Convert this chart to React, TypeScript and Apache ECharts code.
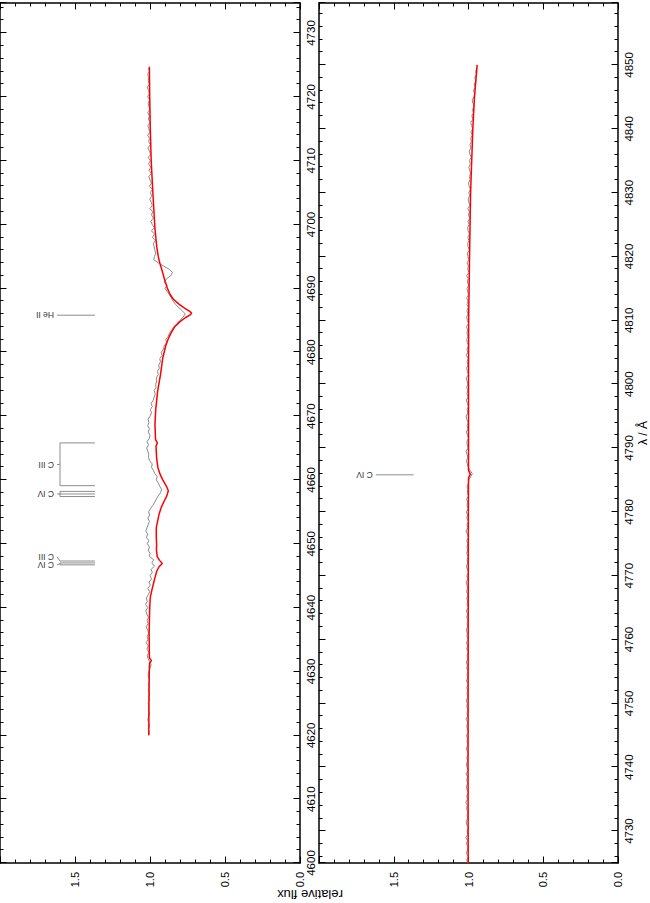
import React, { useEffect, useRef } from "react";
import * as echarts from "echarts";

const FONT = "Liberation Sans, Arial, Helvetica, sans-serif";

// Wavelength ranges (Å) of the two panels
const TOP_RANGE = [4600, 4734.7];
const BOTTOM_RANGE = [4725, 4859.7];
const FLUX_RANGE = [0, 2];

// Observed spectrum: sampled every 0.5 Å
const OBS_STEP = 0.5;
const TOP_OBS_START = 4620;
const TOP_OBS = [
  1.01, 1.006, 1.012, 1.004, 1.01, 1.015, 1.008, 1.003, 1.011, 1.007, 1.013, 1.005, 1.009, 1.002, 1.012, 1.006, 1.01, 1.004, 1.008, 1.013, 1.006, 1.0,
  0.992, 1.002, 1.012, 1.018, 1.008, 1.02, 1.012, 1.025, 1.014, 1.019, 1.008, 1.016, 1.026, 1.012, 1.02, 1.01, 1.022, 1.028, 1.015, 1.03, 1.018, 1.024,
  1.012, 1.002, 1.015, 0.998, 1.006, 0.99, 1.0, 0.985, 0.992, 0.97, 0.988, 0.975, 1.004, 1.0, 1.012, 1.003, 1.018, 1.008, 1.024, 1.015, 1.028, 1.02,
  1.012, 1.004, 1.014, 1.002, 1.01, 0.996, 0.982, 0.968, 0.958, 0.945, 0.93, 0.922, 0.935, 0.944, 0.958, 0.952, 0.968, 0.978, 0.99, 0.985, 1.002, 1.01,
  1.008, 1.015, 1.022, 1.01, 1.02, 1.005, 1.0, 1.012, 1.004, 1.015, 1.008, 1.012, 1.0, 0.99, 0.998, 0.985, 0.992, 0.978, 0.972, 0.965, 0.972, 0.96,
  0.962, 0.955, 0.958, 0.945, 0.95, 0.938, 0.942, 0.93, 0.935, 0.92, 0.925, 0.91, 0.905, 0.89, 0.895, 0.878, 0.87, 0.855, 0.84, 0.82, 0.8, 0.78,
  0.765, 0.785, 0.81, 0.83, 0.845, 0.858, 0.87, 0.885, 0.9, 0.885, 0.905, 0.89, 0.862, 0.85, 0.872, 0.91, 0.945, 0.975, 0.97, 0.962, 0.968, 0.972,
  0.978, 0.965, 0.985, 0.97, 0.99, 0.972, 0.985, 0.995, 0.978, 0.99, 0.982, 1.0, 0.985, 0.992, 1.002, 0.988, 0.998, 0.985, 1.004, 0.99, 1.0, 1.008,
  0.992, 1.006, 0.995, 1.01, 0.998, 1.012, 0.996, 1.004, 1.014, 0.998, 1.01, 1.002, 1.016, 1.0, 1.008, 1.014, 0.998, 1.01, 1.004, 1.015, 1.0, 1.008,
  1.012, 1.002, 1.016, 1.005, 1.01, 1.018, 1.004, 1.012, 1.008, 1.016, 1.003, 1.01,
];
const BOTTOM_OBS_START = 4725;
const BOTTOM_OBS = [
  1.005, 1.012, 1.0, 1.015, 1.008, 1.002, 1.014, 1.006, 1.018, 1.004, 1.01, 1.0, 1.012, 1.016, 1.005, 1.01, 1.002, 1.014, 1.008, 1.018, 1.006, 1.012, 1.0, 1.01, 1.015,
  1.004, 1.012, 1.006, 1.016, 1.002, 1.01, 1.014, 1.005, 1.012, 1.0, 1.008, 1.015, 1.003, 1.01, 1.006, 1.014, 1.0, 1.008, 1.012, 1.004, 1.016, 1.006, 1.01, 1.002, 1.012,
  1.008, 1.015, 1.004, 1.01, 1.006, 1.012, 1.0, 1.014, 1.006, 1.01, 1.003, 1.012, 1.008, 1.015, 1.004, 1.01, 1.0, 1.012, 1.006, 1.014, 1.002, 1.01, 1.008, 1.016, 1.005,
  1.01, 1.003, 1.012, 1.006, 1.015, 1.0, 1.01, 1.005, 1.012, 1.002, 1.014, 1.006, 1.01, 1.016, 1.004, 1.012, 1.0, 1.008, 1.014, 1.005, 1.01, 1.002, 1.012, 1.006, 1.01,
  1.004, 1.012, 1.0, 1.008, 1.016, 1.005, 1.01, 1.0, 1.012, 1.006, 1.014, 1.002, 1.01, 1.006, 1.012, 1.0, 1.008, 1.004, 1.01, 1.0, 0.998, 0.985, 0.975, 0.99, 1.002,
  1.008, 1.014, 1.004, 1.01, 1.016, 1.002, 1.008, 1.012, 1.0, 1.006, 1.014, 1.004, 1.01, 1.002, 1.012, 1.016, 1.005, 1.01, 1.0, 1.008, 1.014, 1.003, 1.01, 1.006, 1.012,
  1.004, 1.01, 1.015, 1.0, 1.008, 1.012, 1.004, 1.01, 1.002, 1.014, 1.006, 1.01, 1.0, 1.008, 1.012, 1.004, 1.01, 1.006, 1.014, 1.0, 1.008, 1.012, 1.004, 1.01, 1.002,
  1.01, 1.004, 1.012, 1.0, 1.006, 1.01, 0.998, 1.008, 1.002, 1.012, 0.996, 1.006, 1.0, 1.01, 0.998, 1.004, 1.008, 0.995, 1.002, 1.006, 0.998, 1.004, 0.994, 1.002, 1.006,
  0.996, 1.002, 0.992, 1.0, 0.994, 1.004, 0.99, 0.998, 1.002, 0.992, 0.998, 0.988, 0.996, 1.0, 0.99, 0.994, 0.986, 0.992, 0.998, 0.988, 0.994, 0.982, 0.99, 0.995, 0.984,
  0.99, 0.98, 0.986, 0.975, 0.984, 0.972, 0.98, 0.985, 0.97, 0.978, 0.966, 0.975, 0.962, 0.97, 0.976, 0.964, 0.958, 0.968, 0.955, 0.962, 0.95, 0.958, 0.946, 0.952, 0.944,
];

// Model spectrum: [wavelength, relative flux]
const TOP_MODEL = [
  [4620, 1.008], [4625, 1.007], [4630, 1.005], [4631.3, 1.003], [4631.7, 0.99], [4632.1, 1.004],
  [4636, 1.006], [4640, 1.002], [4641.6, 0.998], [4643, 0.985], [4644.7, 0.967], [4645.7, 0.955],
  [4646.4, 0.94], [4646.9, 0.918], [4647.4, 0.936], [4648, 0.952], [4649, 0.957], [4650, 0.956],
  [4651, 0.958], [4652.5, 0.958], [4653.6, 0.949], [4654.6, 0.94], [4655.7, 0.925], [4656.7, 0.905],
  [4657.5, 0.888], [4658.3, 0.878], [4659, 0.89], [4660, 0.915], [4660.9, 0.933], [4662, 0.948],
  [4663.5, 0.956], [4665.3, 0.96], [4665.8, 0.951], [4666.3, 0.963], [4668.7, 0.967], [4671, 0.962],
  [4673.9, 0.949], [4676.5, 0.93], [4679.1, 0.915], [4681, 0.895], [4682, 0.88], [4683, 0.86],
  [4684, 0.835], [4684.8, 0.8], [4685.4, 0.765], [4685.8, 0.735], [4686.1, 0.722], [4686.4, 0.735],
  [4686.9, 0.77], [4687.5, 0.805], [4688.3, 0.844], [4689, 0.865], [4690, 0.884], [4691, 0.898],
  [4692, 0.91], [4693, 0.922], [4694, 0.935], [4695, 0.945], [4696.5, 0.955], [4699.4, 0.967],
  [4704.6, 0.98], [4710, 0.992], [4715, 0.998], [4720, 1.002], [4724.7, 1.004],
];
const BOTTOM_MODEL = [
  [4725, 1.002], [4740, 1.003], [4760, 1.002], [4780, 1.001], [4785.3, 1.0], [4785.9, 0.988],
  [4786.5, 1.0], [4800, 1.0], [4810, 0.999], [4820, 0.993], [4830, 0.986], [4840, 0.971],
  [4845, 0.96], [4850, 0.942],
];

// Line identifications
const TOP_IDS = [
  { label: "He II", lines: [4685.8], labelAt: 4685.8 },
  { label: "C III", lines: [4659.1, 4665.8], labelAt: 4662.4 },
  { label: "C IV", lines: [4657.4, 4657.8, 4658.2], labelAt: 4657.8 },
  { label: "C III", lines: [4647.3], labelAt: 4647.95 },
  { label: "C IV", lines: [4646.7, 4647.0], labelAt: 4646.7 },
];
const BOTTOM_IDS = [{ label: "C IV", lines: [4785.8], labelAt: 4785.8 }];
const ID_LOW_FLUX = 1.367;
const ID_BAR_FLUX = 1.6;
const ID_TICK_FLUX = 1.62;
const ID_LABEL_FLUX = 1.64;

function obsPairs(start: number, values: number[]) {
  return values.map((v, i) => [start + i * OBS_STEP, v]);
}

function wlAxis(gridIndex: number, range: number[], position: string, labels: boolean, name?: string) {
  return {
    type: "value",
    gridIndex,
    position,
    min: range[0],
    max: range[1],
    minInterval: 10,
    maxInterval: 10,
    splitNumber: 13,
    name: name || "",
    nameLocation: "middle",
    nameGap: 19,
    nameTextStyle: { color: "#000", fontSize: 12, fontFamily: FONT },
    axisLine: { show: true, onZero: false, lineStyle: { color: "#000", width: 1.5 } },
    axisTick: { show: true, inside: true, length: 6.5, lineStyle: { color: "#000", width: 1 } },
    minorTick: { show: true, splitNumber: 5, length: 3.5, lineStyle: { color: "#000", width: 1 } },
    axisLabel: {
      show: labels,
      margin: 5,
      color: "#000",
      fontSize: 11.5,
      fontFamily: FONT,
      formatter: (v: number) => (Math.abs(v % 10) < 1e-6 ? String(Math.round(v)) : ""),
    },
    splitLine: { show: false },
  };
}

function fluxAxis(gridIndex: number, position: string, labels: boolean) {
  return {
    type: "value",
    gridIndex,
    position,
    min: FLUX_RANGE[0],
    max: FLUX_RANGE[1],
    interval: 0.5,
    axisLine: { show: true, onZero: false, lineStyle: { color: "#000", width: 1.5 } },
    axisTick: { show: true, inside: true, length: 6.5, lineStyle: { color: "#000", width: 1 } },
    minorTick: { show: true, splitNumber: 5, length: 3.5, lineStyle: { color: "#000", width: 1 } },
    axisLabel: {
      show: labels,
      margin: 9,
      color: "#000",
      fontSize: 11,
      fontFamily: FONT,
      formatter: (v: number) => (v >= 1.99 ? "" : v.toFixed(1)),
    },
    splitLine: { show: false },
  };
}

function idSeries(ids: any[], xi: number, yi: number) {
  return {
    type: "custom",
    xAxisIndex: xi,
    yAxisIndex: yi,
    silent: true,
    clip: false,
    data: ids.map((d) => [d.labelAt, ID_LABEL_FLUX]),
    renderItem: (params: any, api: any) => {
      const d = ids[params.dataIndex];
      const st = { stroke: "#707070", lineWidth: 0.8 };
      const children: any[] = [];
      const seg = (a: number[], b: number[]) =>
        children.push({ type: "line", shape: { x1: a[0], y1: a[1], x2: b[0], y2: b[1] }, style: st });
      d.lines.forEach((l: number) => seg(api.coord([l, ID_BAR_FLUX]), api.coord([l, ID_LOW_FLUX])));
      const lo = Math.min(...d.lines);
      const hi = Math.max(...d.lines);
      if (hi > lo) seg(api.coord([lo, ID_BAR_FLUX]), api.coord([hi, ID_BAR_FLUX]));
      const c = (lo + hi) / 2;
      seg(api.coord([c, ID_BAR_FLUX]), api.coord([d.labelAt, ID_TICK_FLUX]));
      const p = api.coord([d.labelAt, ID_LABEL_FLUX]);
      children.push({
        type: "text",
        x: p[0],
        y: p[1],
        rotation: Math.PI / 2,
        style: {
          text: d.label,
          fill: "#333",
          fontSize: 8.5,
          fontFamily: FONT,
          align: "left",
          verticalAlign: "middle",
        },
      });
      return { type: "group", children };
    },
  };
}

export default function App() {
  const ref = useRef<HTMLDivElement>(null);
  useEffect(() => {
    if (!ref.current) return;
    const chart = echarts.init(ref.current, undefined, { renderer: "svg", width: 903, height: 650 });
    const obsStyle = { color: "#8a8a8a", width: 1 };
    const modelStyle = { color: "#ff0000", width: 1.5 };
    chart.setOption({
      animation: false,
      backgroundColor: "#fff",
      grid: [
        { left: 40, top: 0, width: 862, height: 300 },
        { left: 40, top: 319, width: 862, height: 300 },
      ],
      xAxis: [
        wlAxis(0, TOP_RANGE, "bottom", true),
        wlAxis(0, TOP_RANGE, "top", false),
        wlAxis(1, BOTTOM_RANGE, "bottom", true, "λ / Å"),
        wlAxis(1, BOTTOM_RANGE, "top", false),
      ],
      yAxis: [fluxAxis(0, "left", true), fluxAxis(0, "right", false), fluxAxis(1, "left", true), fluxAxis(1, "right", false)],
      graphic: [
        {
          type: "text",
          x: 9,
          y: 310,
          rotation: Math.PI / 2,
          style: {
            text: "relative flux",
            fill: "#000",
            fontSize: 13,
            fontFamily: FONT,
            align: "center",
            verticalAlign: "middle",
          },
        },
      ],
      series: [
        { type: "line", xAxisIndex: 0, yAxisIndex: 0, data: obsPairs(TOP_OBS_START, TOP_OBS), showSymbol: false, lineStyle: obsStyle, itemStyle: { color: obsStyle.color } },
        { type: "line", xAxisIndex: 0, yAxisIndex: 0, data: TOP_MODEL, showSymbol: false, lineStyle: modelStyle, itemStyle: { color: modelStyle.color } },
        idSeries(TOP_IDS, 0, 0),
        { type: "line", xAxisIndex: 2, yAxisIndex: 2, data: obsPairs(BOTTOM_OBS_START, BOTTOM_OBS), showSymbol: false, lineStyle: obsStyle, itemStyle: { color: obsStyle.color } },
        { type: "line", xAxisIndex: 2, yAxisIndex: 2, data: BOTTOM_MODEL, showSymbol: false, lineStyle: modelStyle, itemStyle: { color: modelStyle.color } },
        idSeries(BOTTOM_IDS, 2, 2),
      ],
    });
    return () => chart.dispose();
  }, []);
  return (
    <div style={{ position: "fixed", left: 0, top: 0, width: 650, height: 903, overflow: "hidden", background: "#fff" }}>
      <div
        ref={ref}
        style={{
          position: "absolute",
          left: 0,
          top: 0,
          width: 903,
          height: 650,
          transformOrigin: "0 0",
          transform: "translate(0px, 903px) rotate(-90deg)",
        }}
      />
    </div>
  );
}
